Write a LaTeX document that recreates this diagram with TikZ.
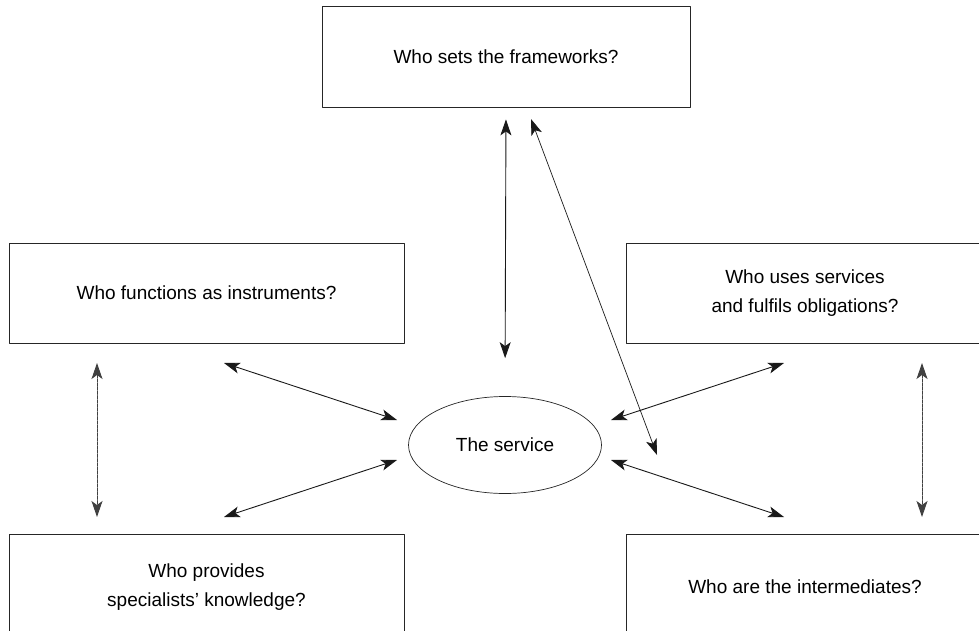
\documentclass[tikz,border=0pt]{standalone}
\usepackage{fontspec}
\setmainfont{Liberation Sans}
\usetikzlibrary{arrows.meta,shapes.geometric}

\begin{document}
\begin{tikzpicture}[line cap=round,line join=round,x=1pt,y=-1pt,
		box/.style={draw=black!85,line width=0.8pt,rectangle,inner sep=0pt,align=center,
			minimum height=100pt,font=\fontsize{19}{29}\selectfont},
		link/.style={{Stealth[length=16pt,width=11pt,inset=4pt]}-{Stealth[length=16pt,width=11pt,inset=4pt]},line width=0.9pt,black!90},
		dashlink/.style={link,line width=1pt,black!75,dash pattern=on 3pt off 1.2pt}]
			\useasboundingbox (0,0) rectangle (979,631);
			\clip (0,0) rectangle (979,631);

			% Boxes
			\node[box,minimum width=368pt,minimum height=101pt] (frame) at (506,56.5) {Who sets the frameworks?};
			\node[box,minimum width=395pt] (instr) at (206.5,293) {Who functions as instruments?};
			\node[box,minimum width=358pt] (users) at (805,293) {Who uses services\\and fulfils obligations?};
			\node[box,minimum width=395pt,minimum height=106pt] (spec) at (206.5,587) {Who provides\\specialists' knowledge?};
			\node[box,minimum width=358pt,minimum height=106pt] (inter) at (805,587) {Who are the intermediates?};
			\node[draw=black!85,ellipse,line width=0.7pt,minimum width=193pt,minimum height=97pt,inner sep=0pt,
				font=\fontsize{19}{29}\selectfont] (svc) at (505,445) {The service};

			% Free ends
			\coordinate (diagA) at (531,119);
			\coordinate (diagB) at (657,455);
			\coordinate (instrA) at (224,363);
			\coordinate (instrB) at (397,420);
			\coordinate (specA) at (224,517);
			\coordinate (specB) at (397,460);
			\coordinate (usersA) at (784,363);
			\coordinate (usersB) at (611,420);
			\coordinate (interA) at (784,517);
			\coordinate (interB) at (611,460);
			\coordinate (leftA) at (97,363);
			\coordinate (leftB) at (97,517);
			\coordinate (rightA) at (922,363);
			\coordinate (rightB) at (922,517);

			% Arrows
			\draw [link,shorten <=12pt,shorten >=38pt] (frame.south) -- (svc.north);
			\draw [link,line width=0.7pt] (diagA) -- (diagB);
			\draw [link] (instrA) -- (instrB);
			\draw [link] (specA) -- (specB);
			\draw [link] (usersA) -- (usersB);
			\draw [link] (interA) -- (interB);
			\draw [dashlink] (leftA) -- (leftB);
			\draw [dashlink] (rightA) -- (rightB);
		\end{tikzpicture}
\end{document}
